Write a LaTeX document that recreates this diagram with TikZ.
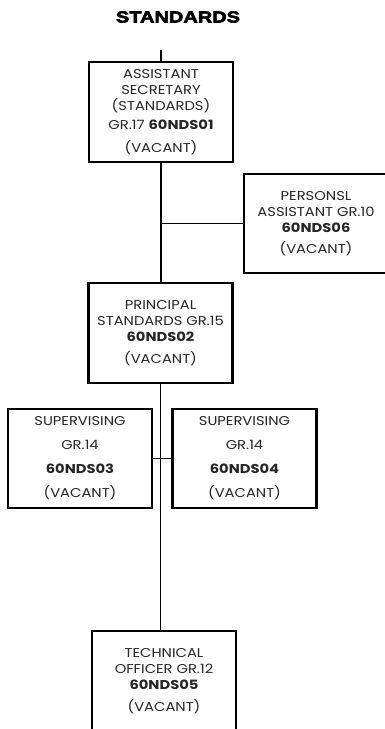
\documentclass[tikz,border=0pt]{standalone}
\usepackage{fontspec}
\setmainfont{Poppins}[FakeStretch=1.15]
\newfontfamily\titlefont[FakeStretch=1.25,FakeBold=3.5]{Liberation Sans Bold}

\tikzset{every picture/.style={line width=0.75pt}}
\tikzset{
  post/.style={draw, line width=1.6pt, minimum width=108pt, minimum height=74.5pt,
    inner sep=0.75pt, align=center, font=\fontsize{9.6}{12}\selectfont, text=black!85},
  link/.style={line width=1.3pt}
}

\begin{document}
\begin{tikzpicture}[x=0.75pt,y=0.75pt,yscale=-1,xscale=1]
%set diagram left start at 0, and has height of 729
\clip (0,0) rectangle (385,729);

% Text Node
\draw (178,17) node [font=\titlefont\fontsize{12}{13}\selectfont] (title) {STANDARDS};

%Shape: Rectangle
\draw (161,112) node [post] (as) {ASSISTANT\\SECRETARY\\(STANDARDS)\\[2pt]GR.17 \textbf{60NDS01}\\[5pt](VACANT)};
%Shape: Rectangle
\draw (316,223.5) node [post] (pa) {PERSONSL\\ASSISTANT GR.10\\\textbf{60NDS06}\\[4pt](VACANT)};
%Shape: Rectangle
\draw (160.5,333) node [post] (ps) {PRINCIPAL\\STANDARDS GR.15\\\textbf{60NDS02}\\[5pt](VACANT)};
%Shape: Rectangle
\draw (80,458.5) node [post] (sv1) {SUPERVISING\\[6pt]GR.14\\[6pt]\textbf{60NDS03}\\[6pt](VACANT)};
%Shape: Rectangle
\draw (244.5,458.5) node [post] (sv2) {SUPERVISING\\[6pt]GR.14\\[6pt]\textbf{60NDS04}\\[6pt](VACANT)};
%Shape: Rectangle
\draw (164,681) node [post] (to) {TECHNICAL\\OFFICER GR.12\\\textbf{60NDS05}\\[5pt](VACANT)};

\coordinate (top) at (161,50);

%Straight Lines
\draw [link] (top) -- (as.north);
%Straight Lines
\draw [link, line width=2pt] (as.south) -- (as.south |- ps.north);
%Straight Lines
\draw [link] (as.south |- pa.west) -- (pa.west);
%Straight Lines
\draw [link] (ps.south) -- (ps.south |- to.north);
%Straight Lines
\draw [link] (sv1.east) -- (sv2.west);

\end{tikzpicture}
\end{document}
